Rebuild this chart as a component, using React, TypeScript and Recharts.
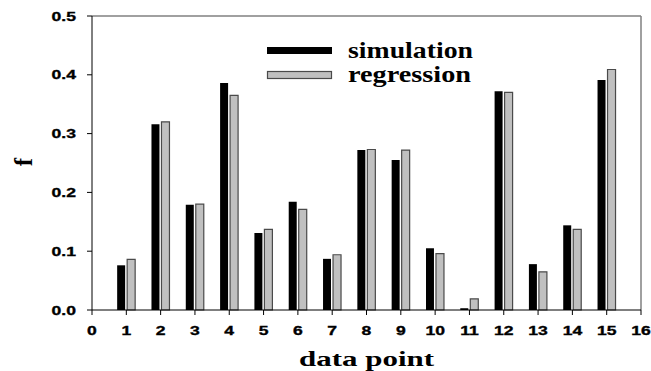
import React from "react";
import { BarChart, Bar, XAxis, YAxis, ReferenceLine } from "recharts";

const dataPoints = [1, 2, 3, 4, 5, 6, 7, 8, 9, 10, 11, 12, 13, 14, 15];
const simulation = [0.076, 0.316, 0.179, 0.386, 0.131, 0.184, 0.087, 0.272, 0.255, 0.105, 0.003, 0.372, 0.078, 0.144, 0.391];
const regression = [0.086, 0.320, 0.180, 0.365, 0.137, 0.171, 0.094, 0.273, 0.272, 0.096, 0.019, 0.370, 0.065, 0.137, 0.409];
const xTicks = [0, 1, 2, 3, 4, 5, 6, 7, 8, 9, 10, 11, 12, 13, 14, 15, 16];
const yTicks = [0, 0.1, 0.2, 0.3, 0.4, 0.5];
const seriesNames = ["simulation", "regression"];
const axisTitles = { x: "data point", y: "f" };

const data = dataPoints.map((x, i) => ({ x, simulation: simulation[i], regression: regression[i] }));

const SANS = "Liberation Sans, Arial, sans-serif";
const SERIF = "Liberation Serif, Times New Roman, serif";

const XTick = (props: any) => {
  const { x, y, payload } = props;
  return (
    <g transform={`translate(${x},${y + 18}) scale(1.35,1)`}>
      <text x={0} y={0} textAnchor="middle" fontFamily={SANS} fontWeight={700} fontSize={13} fill="#000" stroke="#000" strokeWidth={0.35}>
        {String(payload.value)}
      </text>
    </g>
  );
};

const YTick = (props: any) => {
  const { x, y, payload } = props;
  return (
    <g transform={`translate(${x - 9},${y + 4.5}) scale(1.35,1)`}>
      <text x={0} y={0} textAnchor="end" fontFamily={SANS} fontWeight={700} fontSize={13} fill="#000" stroke="#000" strokeWidth={0.35}>
        {Number(payload.value).toFixed(1)}
      </text>
    </g>
  );
};

export default function App() {
  return (
    <div style={{ position: "absolute", left: 0, top: 0, width: 651, height: 371, background: "#fff" }}>
      <BarChart
        width={651}
        height={371}
        data={data}
        margin={{ top: 16, right: 10, bottom: 0, left: 0 }}
        barGap={2}
        barSize={8}
      >
        <XAxis
          dataKey="x"
          type="number"
          domain={[0, 16]}
          ticks={xTicks}
          interval={0}
          height={61}
          stroke="#000"
          tickSize={5}
          tick={<XTick />}
        />
        <YAxis
          type="number"
          domain={[0, 0.5]}
          ticks={yTicks}
          width={92}
          stroke="#000"
          tickSize={5}
          tick={<YTick />}
        />
        <ReferenceLine y={0.5} stroke="#808080" strokeWidth={1.5} />
        <ReferenceLine x={16} stroke="#808080" strokeWidth={1.5} />
        <Bar dataKey="simulation" name={seriesNames[0]} fill="#000" isAnimationActive={false} />
        <Bar dataKey="regression" name={seriesNames[1]} fill="#c0c0c0" stroke="#4a4a4a" strokeWidth={1.2} isAnimationActive={false} />
      </BarChart>
      <svg width={651} height={371} style={{ position: "absolute", left: 0, top: 0, pointerEvents: "none" }}>
        <rect x={267} y={47} width={65} height={7} fill="#000" />
        <text x={348} y={58} textLength={125} lengthAdjust="spacingAndGlyphs" fontFamily={SERIF} fontWeight={700} fontSize={23} fill="#000">{seriesNames[0]}</text>
        <rect x={267.5} y={71.5} width={64} height={7} fill="#c0c0c0" stroke="#4a4a4a" strokeWidth={1.2} />
        <text x={348} y={82} textLength={123} lengthAdjust="spacingAndGlyphs" fontFamily={SERIF} fontWeight={700} fontSize={23} fill="#000">{seriesNames[1]}</text>
        <text x={299} y={366} textLength={135} lengthAdjust="spacingAndGlyphs" fontFamily={SERIF} fontWeight={700} fontSize={21} fill="#000">{axisTitles.x}</text>
        <text x={0} y={0} transform="translate(32,162) rotate(-90)" textAnchor="middle" fontFamily={SERIF} fontWeight={700} fontSize={25} fill="#000">{axisTitles.y}</text>
      </svg>
    </div>
  );
}
